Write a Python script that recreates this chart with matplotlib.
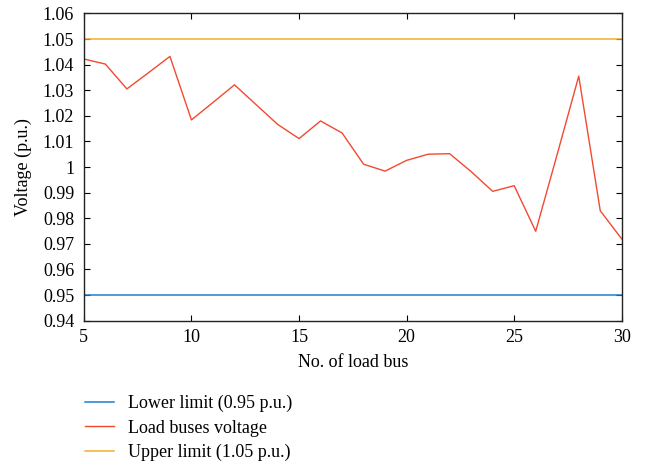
import numpy as np
import matplotlib.pyplot as plt

plt.rcParams['font.family'] = ['Liberation Serif', 'DejaVu Serif']
plt.rcParams['font.size'] = 13

# Datos
bus = np.arange(5, 31)
voltaje = [1.0422, 1.0402, 1.0305, 1.0368, 1.0432, 1.0184, 1.0252, 1.0321,
           1.0244, 1.0167, 1.0111, 1.0180, 1.0133, 1.0011, 0.9984, 1.0026,
           1.0050, 1.0052, 0.9982, 0.9905, 0.9927, 0.9749, 1.0050, 1.0355,
           0.9829, 0.9719]
limite_inf = 0.95
limite_sup = 1.05

fig = plt.figure(figsize=(6.45, 4.62), dpi=100)
ax = fig.add_axes([0.130, 0.306, 0.834, 0.665])

ax.plot(bus, np.full(len(bus), limite_inf), color='#1A80D0', lw=1.1, label='Lower limit (0.95 p.u.)')
ax.plot(bus, voltaje, color='#F24A30', lw=1.0, label='Load buses voltage')
ax.plot(bus, np.full(len(bus), limite_sup), color='#F5AE2A', lw=1.1, label='Upper limit (1.05 p.u.)')

ax.set_xlim(5, 30)
ax.set_ylim(0.94, 1.06)
ax.set_xticks([5, 10, 15, 20, 25, 30])
yt = np.round(np.arange(0.94, 1.0601, 0.01), 2)
ax.set_yticks(yt)
ax.set_yticklabels(['1' if abs(v - 1) < 1e-9 else f'{v:g}' for v in yt])
ax.tick_params(direction='in', top=True, right=True, length=4, width=0.8)
ax.tick_params(axis='y', pad=7)
ax.tick_params(axis='x', pad=6)
for s in ax.spines.values():
    s.set_linewidth(1.0)
    s.set_color('#222222')

ax.set_xlabel('No. of load bus', labelpad=6)
ax.set_ylabel('Voltage (p.u.)', labelpad=8)

ax.legend(loc='upper left', bbox_to_anchor=(-0.012, -0.219), frameon=False,
          handlelength=1.65, handletextpad=0.78, labelspacing=0.4, borderaxespad=0)

fig.savefig('out.png', dpi=100)
